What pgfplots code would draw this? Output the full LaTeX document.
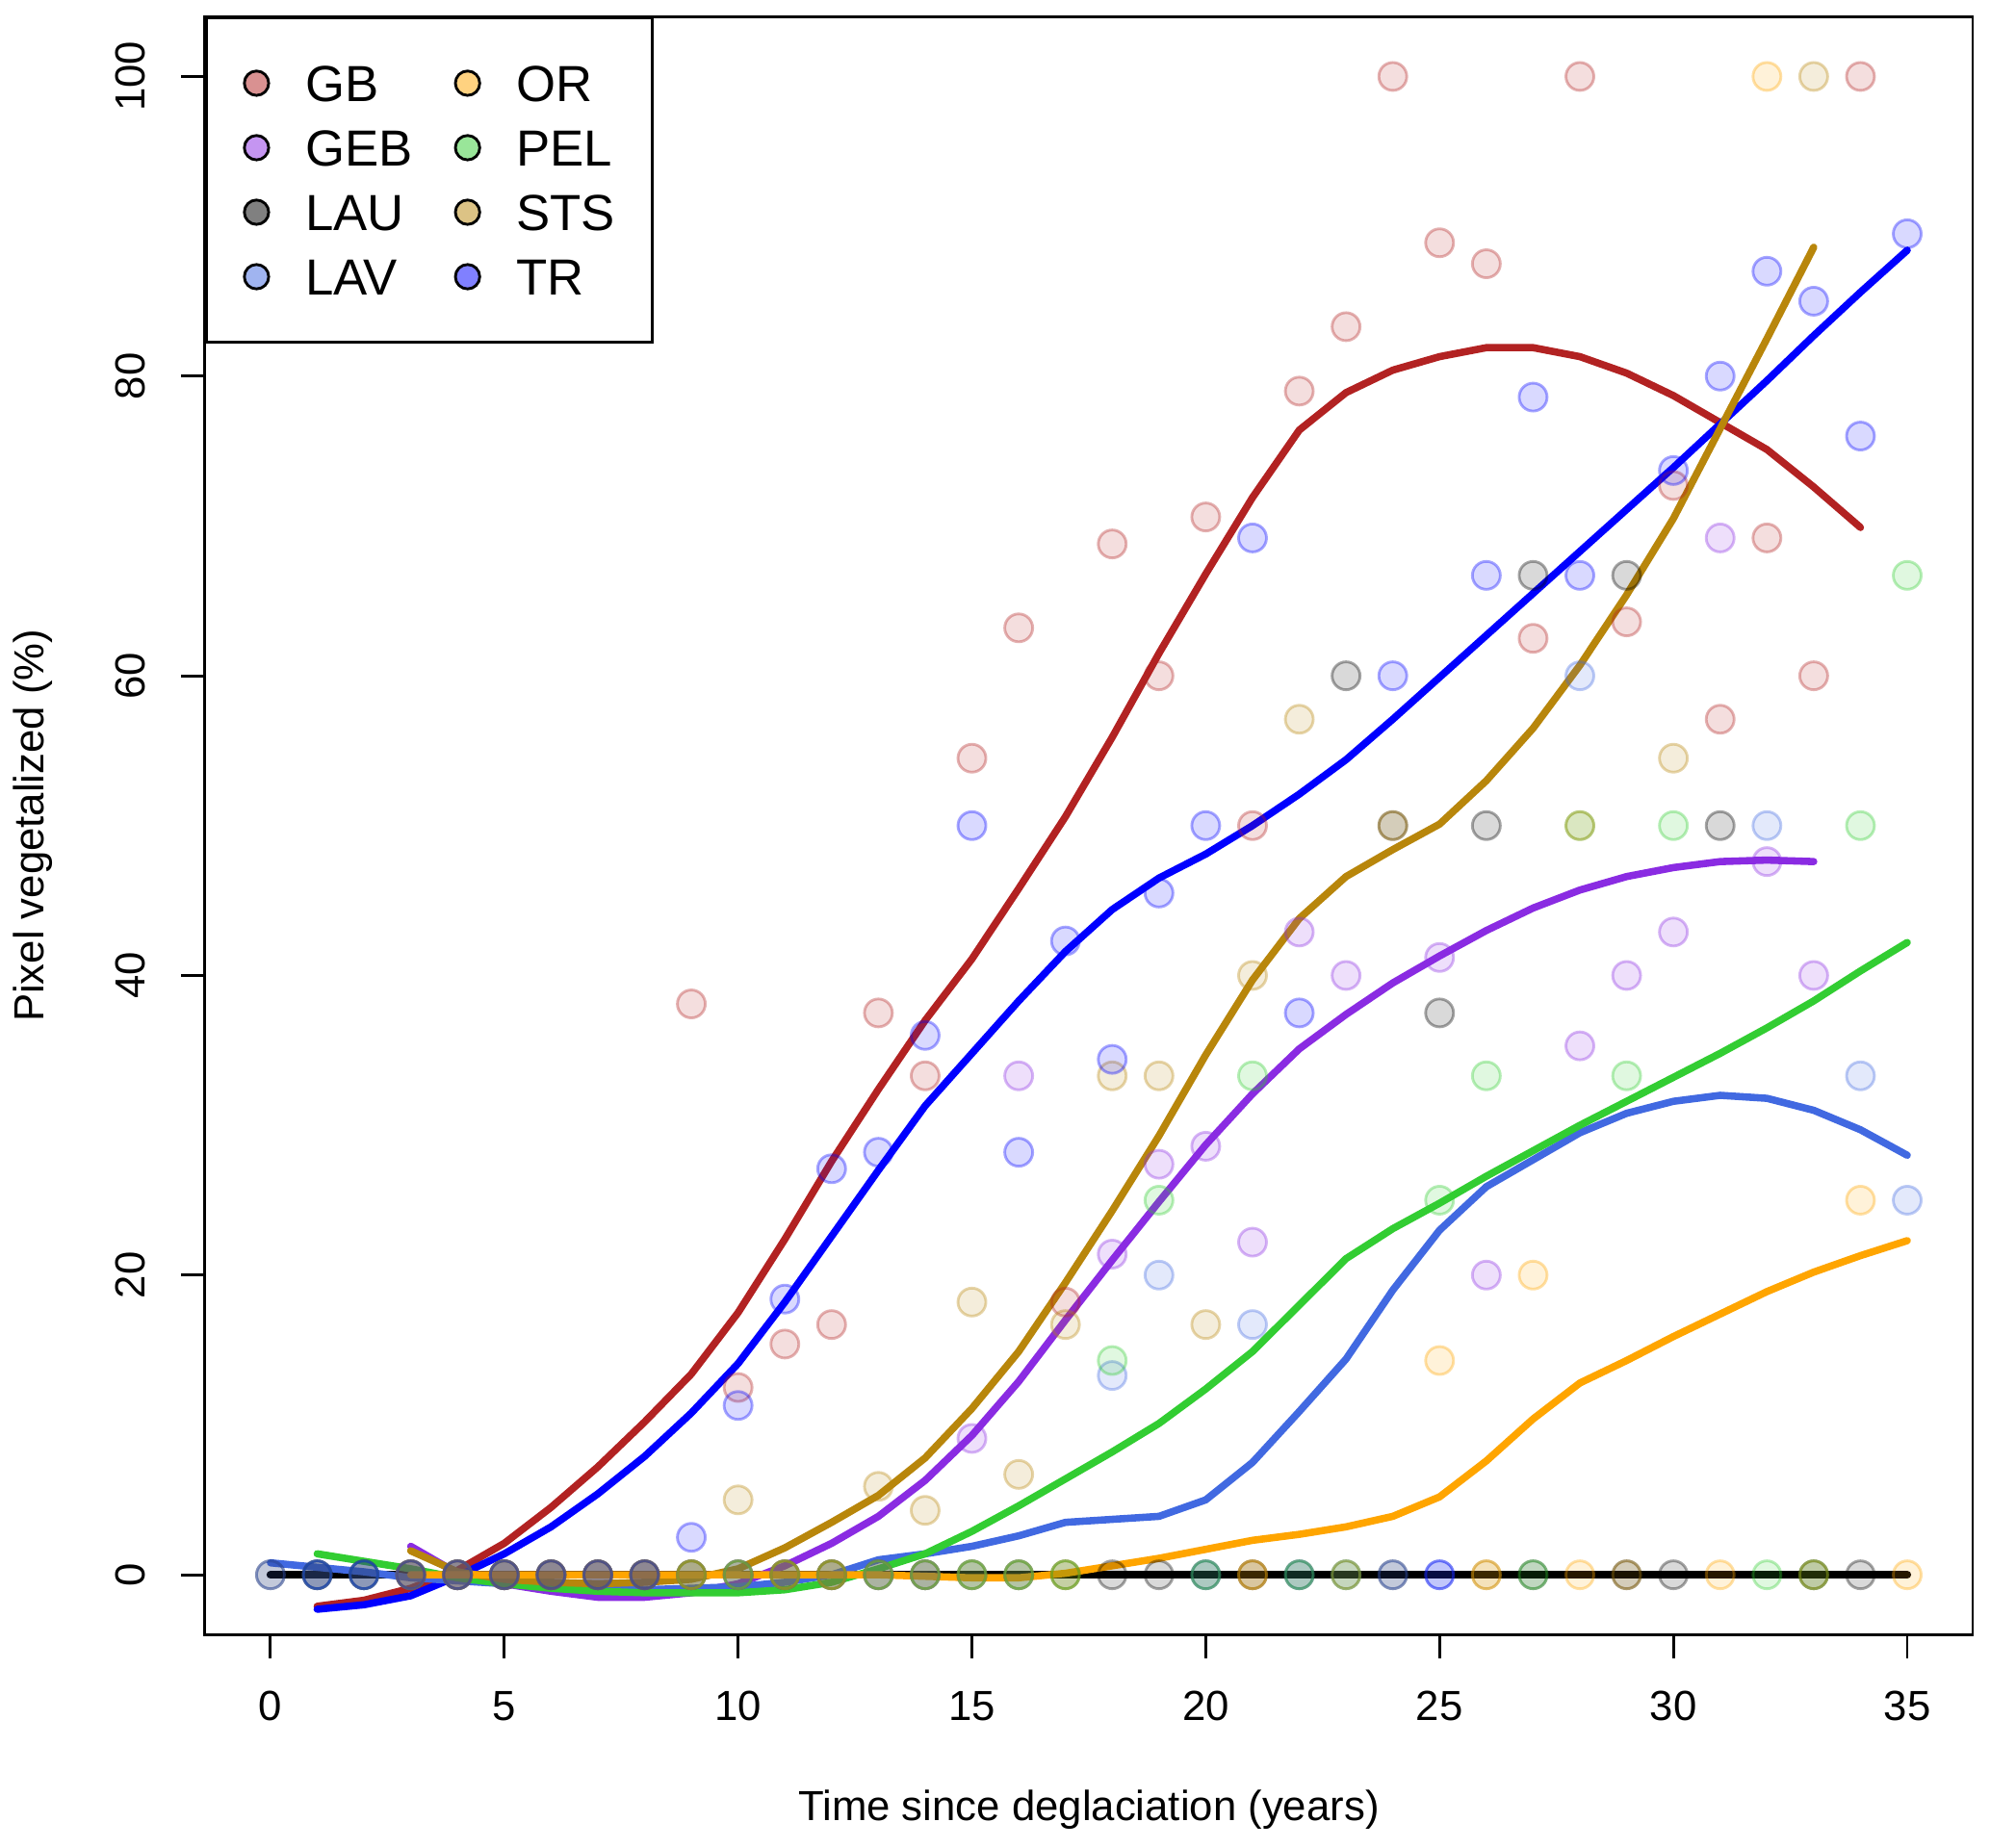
\documentclass[border=0pt]{standalone}
\usepackage{fontspec}
\setmainfont{Liberation Sans}
\usepackage{pgfplots}
\pgfplotsset{compat=1.18}
\usepackage{pgfplotstable}

\definecolor{GBc}{RGB}{178,34,34}
\definecolor{GEBc}{RGB}{138,43,226}
\definecolor{LAUc}{RGB}{0,0,0}
\definecolor{LAVc}{RGB}{65,105,225}
\definecolor{ORc}{RGB}{255,165,0}
\definecolor{PELc}{RGB}{50,205,50}
\definecolor{STSc}{RGB}{184,134,11}
\definecolor{TRc}{RGB}{0,0,255}
\definecolor{GBl}{RGB}{217,145,145}
\definecolor{GEBl}{RGB}{197,149,241}
\definecolor{LAUl}{RGB}{128,128,128}
\definecolor{LAVl}{RGB}{160,180,240}
\definecolor{ORl}{RGB}{255,210,128}
\definecolor{PELl}{RGB}{153,230,153}
\definecolor{STSl}{RGB}{220,195,133}
\definecolor{TRl}{RGB}{128,128,255}

% ---------- points ----------
\pgfplotstableread{
x y
1 0
2 0
3 0
4 0
5 0
6 0
7 0
8 0
9 38.1
10 12.5
11 15.4
12 16.7
13 37.5
14 33.3
15 54.5
16 63.2
17 18.2
18 68.8
19 60.0
20 70.6
21 50.0
22 79.0
23 83.3
24 100
25 88.9
26 87.5
27 62.5
28 100
29 63.6
30 72.7
31 57.1
32 69.2
33 60.0
34 100
}\GBpts
\pgfplotstableread{
x y
3 0
4 0
5 0
6 0
7 0
8 0
9 0
10 0
11 0
12 0
13 0
14 0
15 9.1
16 33.3
18 21.4
19 27.4
20 28.6
21 22.2
22 42.9
23 40.0
25 41.2
26 20.0
28 35.3
29 40.0
30 42.9
31 69.2
32 47.6
33 40.0
}\GEBpts
\pgfplotstableread{
x y
0 0
1 0
2 0
3 0
4 0
5 0
6 0
7 0
8 0
9 0
10 0
11 0
12 0
13 0
14 0
15 0
16 0
17 0
18 0
19 0
20 0
21 0
22 0
24 0
27 0
29 0
30 0
33 0
34 0
23 60.0
24 50.0
25 37.5
26 50.0
27 66.7
29 66.7
31 50.0
}\LAUpts
\pgfplotstableread{
x y
0 0
1 0
2 0
3 0
4 0
5 0
6 0
7 0
8 0
9 0
10 0
11 0
12 0
13 0
14 0
15 0
16 0
20 0
22 0
23 0
24 0
25 0
18 13.3
19 20.0
21 16.7
28 60.0
32 50.0
34 33.3
35 25.0
}\LAVpts
\pgfplotstableread{
x y
3 0
4 0
5 0
6 0
7 0
8 0
9 0
10 0
11 0
12 0
13 0
14 0
15 0
16 0
17 0
21 0
26 0
28 0
31 0
35 0
25 14.3
27 20.0
32 100
34 25.0
}\ORpts
\pgfplotstableread{
x y
1 0
2 0
3 0
4 0
5 0
6 0
7 0
8 0
9 0
10 0
11 0
12 0
13 0
14 0
15 0
16 0
17 0
20 0
22 0
23 0
27 0
32 0
33 0
18 14.3
19 25.0
21 33.3
25 25.0
26 33.3
28 50.0
29 33.3
30 50.0
34 50.0
35 66.7
}\PELpts
\pgfplotstableread{
x y
3 0
4 0
5 0
6 0
7 0
8 0
9 0
11 0
12 0
21 0
23 0
26 0
29 0
33 0
10 5.0
13 5.9
14 4.3
15 18.2
16 6.7
17 16.7
18 33.3
19 33.3
20 16.7
21 40.0
22 57.1
24 50.0
28 50.0
30 54.5
33 100
}\STSpts
\pgfplotstableread{
x y
1 0
2 0
3 0
4 0
5 0
6 0
7 0
8 0
25 0
9 2.5
10 11.3
11 18.4
12 27.1
13 28.2
14 36.0
15 50.0
16 28.2
17 42.3
18 34.4
19 45.5
20 50.0
21 69.2
22 37.5
24 60.0
26 66.7
27 78.6
28 66.7
30 73.7
31 80.0
32 87.0
33 85.0
34 76.0
35 89.5
}\TRpts

% ---------- smoothed lines ----------
\pgfplotstableread{
x y
1 -2.1
2 -1.7
3 -0.9
4 0.3
5 2.1
6 4.5
7 7.2
8 10.2
9 13.4
10 17.5
11 22.4
12 27.6
13 32.4
14 37.0
15 41.1
16 45.8
17 50.6
18 55.9
19 61.5
20 66.8
21 71.9
22 76.4
23 78.9
24 80.4
25 81.3
26 81.9
27 81.9
28 81.3
29 80.2
30 78.7
31 76.9
32 75.1
33 72.6
34 69.9
}\GBline
\pgfplotstableread{
x y
1 -2.3
2 -2.0
3 -1.4
4 -0.1
5 1.4
6 3.2
7 5.4
8 7.9
9 10.8
10 14.1
11 18.2
12 22.6
13 27.0
14 31.3
15 34.8
16 38.3
17 41.6
18 44.4
19 46.5
20 48.1
21 50.0
22 52.1
23 54.4
24 57.1
25 59.9
26 62.7
27 65.5
28 68.3
29 71.1
30 73.9
31 76.8
32 79.7
33 82.7
34 85.6
35 88.4
}\TRline
\pgfplotstableread{
x y
3 1.6
4 0.2
5 -0.3
6 -0.5
7 -0.6
8 -0.5
9 -0.3
10 0.4
11 1.8
12 3.5
13 5.3
14 7.8
15 11.1
16 14.9
17 19.5
18 24.3
19 29.3
20 34.7
21 39.7
22 43.8
23 46.6
24 48.4
25 50.1
26 53.0
27 56.5
28 60.7
29 65.4
30 70.5
31 76.5
32 82.5
33 88.6
}\STSline
\pgfplotstableread{
x y
3 1.9
4 0.1
5 -0.6
6 -1.1
7 -1.5
8 -1.5
9 -1.2
10 -0.6
11 0.6
12 2.1
13 3.9
14 6.3
15 9.3
16 12.9
17 17.0
18 21.0
19 24.9
20 28.7
21 32.1
22 35.1
23 37.4
24 39.5
25 41.3
26 43.0
27 44.5
28 45.7
29 46.6
30 47.2
31 47.6
32 47.7
33 47.6
}\GEBline
\pgfplotstableread{
x y
1 1.4
2 0.9
3 0.4
4 -0.2
5 -0.6
6 -0.9
7 -1.1
8 -1.2
9 -1.2
10 -1.2
11 -1.0
12 -0.5
13 0.4
14 1.4
15 2.9
16 4.6
17 6.4
18 8.2
19 10.1
20 12.4
21 14.9
22 18.0
23 21.1
24 23.1
25 24.8
26 26.6
27 28.3
28 30.0
29 31.6
30 33.2
31 34.8
32 36.5
33 38.3
34 40.3
35 42.2
}\PELline
\pgfplotstableread{
x y
0 0.8
1 0.5
2 0.2
3 -0.2
4 -0.4
5 -0.6
6 -0.8
7 -0.9
8 -1.0
9 -0.9
10 -0.8
11 -0.5
12 0.0
13 1.0
14 1.4
15 1.9
16 2.6
17 3.5
18 3.7
19 3.9
20 5.0
21 7.5
22 10.9
23 14.4
24 19.0
25 23.0
26 25.9
27 27.7
28 29.5
29 30.8
30 31.6
31 32.0
32 31.8
33 31.0
34 29.7
35 28.0
}\LAVline
\pgfplotstableread{
x y
3 0
4 0
5 0
6 0
7 0
8 0
9 0
10 0
11 0
12 0
13 0
14 -0.1
15 -0.2
16 -0.2
17 0.1
18 0.6
19 1.1
20 1.7
21 2.3
22 2.7
23 3.2
24 3.9
25 5.2
26 7.6
27 10.4
28 12.8
29 14.3
30 15.9
31 17.4
32 18.9
33 20.2
34 21.3
35 22.3
}\ORline
\pgfplotstableread{
x y
0 0
35 0
}\LAUline

\pgfplotsset{
  pts/.style={only marks, mark=*, mark size=3.55pt, forget plot,
    mark options={draw=#1, fill=#1, draw opacity=0.35, fill opacity=0.15, line width=0.7pt}},
  fit/.style={#1, line width=1.85pt, line cap=round, line join=round, forget plot},
  legimg/.style={legend image code/.code={\draw[draw=black, line width=0.7pt, fill=#1] (0pt,0pt) circle[radius=3.1pt];}}
}

\begin{document}
\begin{tikzpicture}
\useasboundingbox (-52.1pt,-54.1pt) rectangle (453.7pt,415.6pt);
\begin{axis}[
  scale only axis, width=449.3pt, height=411.4pt,
  xmin=-1.4, xmax=36.4, ymin=-4, ymax=104,
  xtick={0,5,...,35}, ytick={0,20,...,100},
  xtick pos=bottom, ytick pos=left,
  tick align=outside, major tick length=6pt,
  tick style={black, line width=0.7pt},
  axis line style={line width=0.7pt},
  /pgf/number format/assume math mode=true,
  xticklabel style={font=\fontsize{10.7}{12}\selectfont, anchor=base, inner sep=0pt, yshift=-15.8pt},
  yticklabel style={font=\fontsize{10.7}{12}\selectfont, xshift=-9.2pt, rotate=90, anchor=base, inner sep=0pt},
  every axis x label/.style={at={(axis description cs:0.5,0)}, anchor=base, yshift=-47.2pt, inner sep=0pt, font=\fontsize{10.7}{12}\selectfont},
  every axis y label/.style={at={(axis description cs:0,0.5)}, xshift=-40.9pt, rotate=90, anchor=base, inner sep=0pt, font=\fontsize{10.7}{12}\selectfont},
  xlabel={Time since deglaciation (years)},
  ylabel={Pixel vegetalized (\%)},
  legend columns=2,
  legend cell align=left,
  legend style={at={(0,1)}, anchor=north west, draw=black, line width=0.7pt, fill=white,
    inner xsep=9.3pt, inner ysep=8.4pt, column sep=9pt, row sep=0pt,
    /tikz/every even column/.append style={column sep=10.5pt},
    nodes={inner sep=0pt, text height=12.8pt, text depth=3.6pt},
    font=\fontsize{12.9}{15}\selectfont},
]
\addplot[pts=GBc] table {\GBpts};
\addplot[pts=GEBc] table {\GEBpts};
\addplot[pts=LAUc] table {\LAUpts};
\addplot[pts=LAVc] table {\LAVpts};
\addplot[pts=ORc] table {\ORpts};
\addplot[pts=PELc] table {\PELpts};
\addplot[pts=STSc] table {\STSpts};
\addplot[pts=TRc] table {\TRpts};

\addplot[fit=GBc] table {\GBline};
\addplot[fit=TRc] table {\TRline};
\addplot[fit=LAUc, line width=2pt] table {\LAUline};
\addplot[fit=GEBc] table {\GEBline};
\addplot[fit=LAVc] table {\LAVline};
\addplot[fit=PELc] table {\PELline};
\addplot[fit=STSc] table {\STSline};
\addplot[fit=ORc] table {\ORline};

\addlegendimage{legimg=GBl}\addlegendentry{GB}
\addlegendimage{legimg=ORl}\addlegendentry{OR}
\addlegendimage{legimg=GEBl}\addlegendentry{GEB}
\addlegendimage{legimg=PELl}\addlegendentry{PEL}
\addlegendimage{legimg=LAUl}\addlegendentry{LAU}
\addlegendimage{legimg=STSl}\addlegendentry{STS}
\addlegendimage{legimg=LAVl}\addlegendentry{LAV}
\addlegendimage{legimg=TRl}\addlegendentry{TR}
\end{axis}
\end{tikzpicture}
\end{document}
